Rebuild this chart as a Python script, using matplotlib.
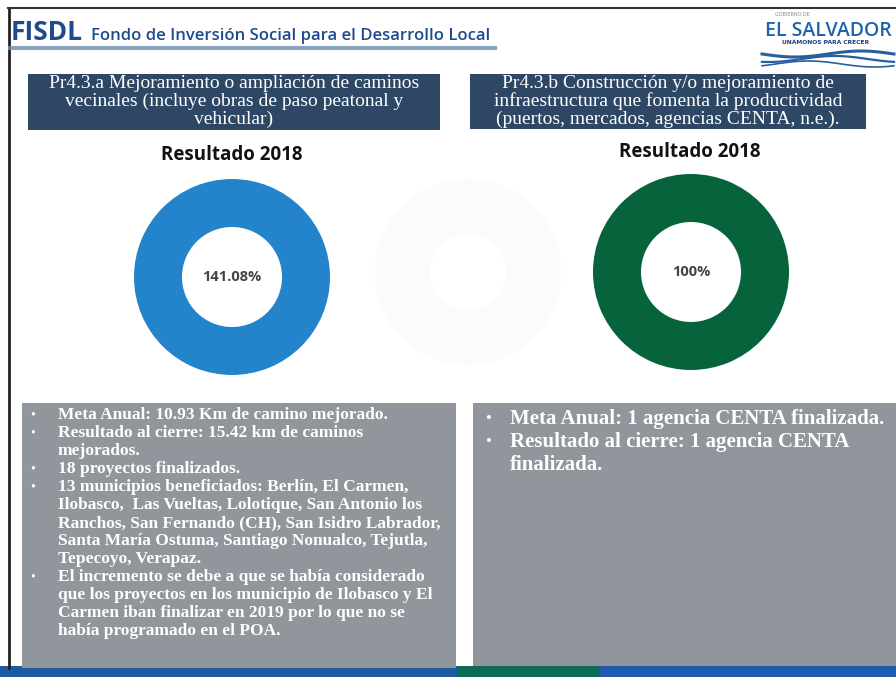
import numpy as np
import matplotlib
matplotlib.use("Agg")
import matplotlib.pyplot as plt
from matplotlib.patches import Rectangle

# --- data ---
panel_titles = [
    ["Pr4.3.a Mejoramiento o ampliación de caminos",
     "vecinales (incluye obras de paso peatonal y",
     "vehicular)"],
    ["Pr4.3.b Construcción y/o mejoramiento de",
     "infraestructura que fomenta la productividad",
     "(puertos, mercados, agencias CENTA, n.e.)."],
]
result_year = "Resultado 2018"
results_pct = [141.08, 100]
result_labels = ["141.08%", "100%"]
donut_colors = ["#2384cc", "#07633c"]

left_bullets = [
    ["Meta Anual: 10.93 Km de camino mejorado."],
    ["Resultado al cierre: 15.42 km de caminos", "mejorados."],
    ["18 proyectos finalizados."],
    ["13 municipios beneficiados: Berlín, El Carmen,",
     "Ilobasco,  Las Vueltas, Lolotique, San Antonio los",
     "Ranchos, San Fernando (CH), San Isidro Labrador,",
     "Santa María Ostuma, Santiago Nonualco, Tejutla,",
     "Tepecoyo, Verapaz."],
    ["El incremento se debe a que se había considerado",
     "que los proyectos en los municipio de Ilobasco y El",
     "Carmen iban finalizar en 2019 por lo que no se",
     "había programado en el POA."],
]
right_bullets = [
    ["Meta Anual: 1 agencia CENTA finalizada."],
    ["Resultado al cierre: 1 agencia CENTA", "finalizada."],
]

W, H = 896, 677
fig = plt.figure(figsize=(W / 100, H / 100), dpi=100)
fig.patch.set_facecolor("white")
ax = fig.add_axes([0, 0, 1, 1])
ax.set_xlim(0, W)
ax.set_ylim(H, 0)
ax.axis("off")

serif = "Liberation Serif"
navy = "#2d4764"
gray_box = "#90969b"

# frame
ax.plot([9, 9], [8, 668], color="#222222", lw=2)
ax.plot([8, W], [8, 8], color="#333333", lw=1.5)

# header
ax.text(11, 32, "FISDL", fontsize=19, fontweight="bold", color="#1f4a8c",
        family="Open Sans", va="center", ha="left")
ax.text(91, 36, "Fondo de Inversión Social para el Desarrollo Local", fontsize=12,
        color="#1f4a8c", family="Open Sans", fontweight="semibold", va="center", ha="left")
ax.plot([10, 495], [48, 48], color="#6d8fb0", lw=3, alpha=0.8)

# logo
ax.text(792, 15, "GOBIERNO DE", fontsize=3.5, color="#888888", family="DejaVu Sans",
        ha="center", va="center")
ax.text(828, 31, "EL SALVADOR", fontsize=14, color="#1d63ad", family="Open Sans",
        fontweight="semibold", ha="center", va="center")
ax.text(826, 43, "UNÁMONOS PARA CRECER", fontsize=4.3, color="#1d3f7a",
        family="DejaVu Sans", fontweight="bold", ha="center", va="center")
xw = np.linspace(762, 894, 60)
for off, lw in [(0, 2.2), (5, 1.6), (10, 1.2)]:
    ax.plot(xw, 54 + off + 3 * np.sin((xw - 762) / 132 * 2 * np.pi + off / 4),
            color="#2a5f9e", lw=lw)

# header boxes
boxes = [(28, 74, 412, 56), (470, 74, 396, 55)]
centers = [234, 668]
for (x0, y0, bw, bh), title, cx in zip(boxes, panel_titles, centers):
    ax.add_patch(Rectangle((x0, y0), bw, bh, facecolor=navy, edgecolor="none"))
    for i, line in enumerate(title):
        ax.text(cx, y0 + 9 + i * 18, line, fontsize=14, color="white",
                family=serif, ha="center", va="center")

# "Resultado 2018"
for cx, cy in [(232, 155), (690, 152)]:
    ax.text(cx, cy, result_year, fontsize=13.5, fontweight="bold", color="#111111",
            family="Open Sans", ha="center", va="center")


# donuts
def donut_axes(cx, cy, size=200):
    return fig.add_axes([(cx - size / 2) / W, 1 - (cy + size / 2) / H, size / W, size / H])


ghost = donut_axes(468, 272)
ghost.pie([1], colors=["#fbfbfb"], radius=0.93,
          wedgeprops=dict(width=0.55, edgecolor="none"))
ghost.set_xlim(-1, 1)
ghost.set_ylim(-1, 1)

for (cx, cy), pct, lab, col in zip([(232, 277), (691, 272)], results_pct,
                                   result_labels, donut_colors):
    dax = donut_axes(cx, cy)
    filled = min(pct, 100)
    dax.pie([filled, 100 - filled], colors=[col, "#dddddd"], radius=0.98,
            startangle=90, counterclock=False,
            wedgeprops=dict(width=0.48, edgecolor="none"))
    dax.set_xlim(-1, 1)
    dax.set_ylim(-1, 1)
    dax.text(0, 0, lab, fontsize=10.5, fontweight="bold", color="#444444",
             family="Open Sans", ha="center", va="center")

# bottom strip
ax.add_patch(Rectangle((0, 666), 457, 11, facecolor="#1e5aa0", edgecolor="none"))
ax.add_patch(Rectangle((457, 666), 143, 11, facecolor="#0d6a55", edgecolor="none"))
ax.add_patch(Rectangle((600, 666), 296, 11, facecolor="#1f5cb0", edgecolor="none"))

# text boxes
ax.add_patch(Rectangle((22, 403), 434, 265, facecolor=gray_box, edgecolor="none"))
ax.add_patch(Rectangle((473, 403), 423, 263, facecolor=gray_box, edgecolor="none"))

y = 415
for item in left_bullets:
    ax.text(33, y, "•", fontsize=10, color="white", family=serif,
            ha="center", va="center")
    for line in item:
        ax.text(58, y, line, fontsize=12.5, color="white", fontweight="bold",
                family=serif, ha="left", va="center")
        y += 18

y = 419
for item in right_bullets:
    ax.text(488, y, "•", fontsize=12, color="white", family=serif,
            ha="center", va="center")
    for line in item:
        ax.text(510, y, line, fontsize=15, color="white", fontweight="bold",
                family=serif, ha="left", va="center")
        y += 23

fig.savefig("out.png", dpi=100)
